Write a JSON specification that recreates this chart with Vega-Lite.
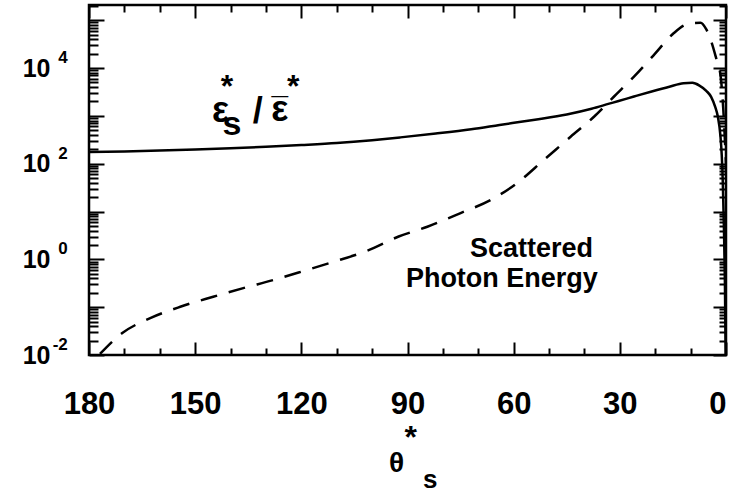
{
  "$schema": "https://vega.github.io/schema/vega-lite/v6.json",
  "width": 637,
  "height": 350,
  "autosize": {"type": "none"},
  "padding": {"left": 89, "top": 5, "right": 3, "bottom": 139},
  "background": "white",
  "config": {
    "view": {"stroke": "black", "strokeWidth": 2.5},
    "font": "Liberation Sans",
    "axis": {"grid": false, "domain": false, "tickColor": "black", "tickWidth": 2, "labelColor": "black", "labelFont": "Liberation Sans", "labelFontWeight": "bold", "labelOverlap": false, "labelFlush": false}
  },
  "datasets": {
    "solid": [
      {"theta": 180, "value": 175}, {"theta": 170, "value": 180}, {"theta": 160, "value": 188},
      {"theta": 150, "value": 198}, {"theta": 140, "value": 210}, {"theta": 130, "value": 225},
      {"theta": 120, "value": 245}, {"theta": 110, "value": 270}, {"theta": 100, "value": 310},
      {"theta": 92, "value": 355}, {"theta": 82, "value": 427}, {"theta": 72, "value": 525},
      {"theta": 64, "value": 645}, {"theta": 54, "value": 832}, {"theta": 45, "value": 1070},
      {"theta": 38, "value": 1410}, {"theta": 33, "value": 1800}, {"theta": 30.6, "value": 2020},
      {"theta": 26, "value": 2540}, {"theta": 21, "value": 3240}, {"theta": 16, "value": 4070},
      {"theta": 12, "value": 4790}, {"theta": 9.5, "value": 4900}, {"theta": 7.5, "value": 4300},
      {"theta": 5.5, "value": 3300}, {"theta": 4.2, "value": 2500}, {"theta": 3, "value": 1500},
      {"theta": 2.3, "value": 960}, {"theta": 1.6, "value": 400}, {"theta": 1.2, "value": 150},
      {"theta": 0.9, "value": 40}, {"theta": 0.6, "value": 5}, {"theta": 0.3, "value": 0.3},
      {"theta": 0.1, "value": 0.01}
    ],
    "dashed": [
      {"theta": 176.9, "value": 0.0105}, {"theta": 170.7, "value": 0.0284}, {"theta": 162.7, "value": 0.059},
      {"theta": 154.2, "value": 0.102}, {"theta": 144.9, "value": 0.165}, {"theta": 136.4, "value": 0.25},
      {"theta": 127.9, "value": 0.37}, {"theta": 119.4, "value": 0.57}, {"theta": 110.9, "value": 0.89},
      {"theta": 101.4, "value": 1.51}, {"theta": 92.5, "value": 3.0}, {"theta": 84.4, "value": 4.8},
      {"theta": 75, "value": 9.3}, {"theta": 66.5, "value": 17.4}, {"theta": 59, "value": 39.5},
      {"theta": 51.5, "value": 119}, {"theta": 43.9, "value": 366}, {"theta": 37.3, "value": 960},
      {"theta": 31.7, "value": 2510}, {"theta": 26, "value": 6600}, {"theta": 20.4, "value": 18700},
      {"theta": 14.8, "value": 53200}, {"theta": 11.5, "value": 80000}, {"theta": 9.96, "value": 86100},
      {"theta": 7.2, "value": 88700}, {"theta": 5.6, "value": 65000}, {"theta": 4.3, "value": 38500},
      {"theta": 2.9, "value": 17300}, {"theta": 1.5, "value": 6600}, {"theta": 0.8, "value": 1500},
      {"theta": 0.3, "value": 300}, {"theta": 0, "value": 100}
    ],
    "glyphs": [
      {"t": "ε", "role": "big", "theta": 142.8, "value": 743},
      {"t": "s", "role": "sub", "theta": 139.6, "value": 398},
      {"t": "*", "role": "star", "theta": 141.0, "value": 2523},
      {"t": "/", "role": "big", "theta": 132.3, "value": 710},
      {"t": "ε", "role": "big", "theta": 126.1, "value": 780},
      {"t": "¯", "role": "bar", "theta": 126.1, "value": 885},
      {"t": "*", "role": "star", "theta": 122.3, "value": 2523},
      {"t": "θ", "role": "theta", "theta": 93.1, "value": 0.0000363},
      {"t": "*", "role": "star", "theta": 89.1, "value": 0.000111},
      {"t": "s", "role": "tsub", "theta": 83.6, "value": 0.0000166}
    ],
    "words": [
      {"t": "Scattered", "theta": 37.6, "value": 1.135},
      {"t": "Photon Energy", "theta": 36.2, "value": 0.264}
    ],
    "exponents": [
      {"e": "-2", "theta": 186, "value": 0.01},
      {"e": "0", "theta": 186, "value": 1},
      {"e": "2", "theta": 186, "value": 100},
      {"e": "4", "theta": 186, "value": 10000}
    ]
  },
  "resolve": {"axis": {"x": "independent", "y": "independent"}},
  "layer": [
    {
      "data": {"name": "solid"},
      "mark": {"type": "line", "color": "black", "strokeWidth": 2.5, "clip": true, "interpolate": "monotone"},
      "encoding": {
        "x": {"field": "theta", "type": "quantitative", "title": null,
          "scale": {"type": "linear", "domain": [0, 180], "reverse": true, "nice": false, "zero": false},
          "axis": {"orient": "bottom", "values": [0, 30, 60, 90, 120, 150, 180], "tickSize": 13, "offset": -13, "labelPadding": 34, "labelFontSize": 31,
            "labelAlign": {"condition": {"test": "datum.value == 0", "value": "right"}, "value": "center"}}},
        "y": {"field": "value", "type": "quantitative", "title": null,
          "scale": {"type": "log", "domain": [0.01, 208000], "nice": false},
          "axis": {"orient": "left", "values": [0.01, 0.1, 1, 10, 100, 1000, 10000, 100000], "tickSize": 15, "offset": -15, "labelPadding": 39, "labelFontSize": 25, "labelBaseline": "middle",
            "labelExpr": "datum.value == 0.01 || datum.value == 1 || datum.value == 100 || datum.value == 10000 ? '10' : ''"}}
      }
    },
    {
      "data": {"name": "dashed"},
      "mark": {"type": "line", "color": "black", "strokeWidth": 2.5, "strokeDash": [17, 12], "clip": true, "interpolate": "monotone"},
      "encoding": {
        "x": {"field": "theta", "type": "quantitative", "title": null,
          "scale": {"type": "linear", "domain": [0, 180], "reverse": true, "nice": false, "zero": false},
          "axis": {"orient": "bottom", "values": [10, 20, 40, 50, 70, 80, 100, 110, 130, 140, 160, 170], "tickSize": 7, "offset": -7, "labels": false}},
        "y": {"field": "value", "type": "quantitative", "title": null,
          "scale": {"type": "log", "domain": [0.01, 208000], "nice": false},
          "axis": {"orient": "left", "tickSize": 9, "offset": -9, "labels": false,
            "values": [0.02,0.03,0.04,0.05,0.06,0.07,0.08,0.09,0.2,0.3,0.4,0.5,0.6,0.7,0.8,0.9,2,3,4,5,6,7,8,9,20,30,40,50,60,70,80,90,200,300,400,500,600,700,800,900,2000,3000,4000,5000,6000,7000,8000,9000,20000,30000,40000,50000,60000,70000,80000,90000,200000]}}
      }
    },
    {
      "data": {"name": "glyphs"},
      "mark": {"type": "text", "color": "black", "fontWeight": "bold", "align": "center", "baseline": "alphabetic", "clip": false},
      "encoding": {
        "text": {"field": "t"},
        "size": {"field": "role", "type": "ordinal", "legend": null,
          "scale": {"domain": ["big", "sub", "star", "bar", "theta", "tsub"], "range": [36, 26, 16, 28, 33, 25]}},
        "x": {"field": "theta", "type": "quantitative", "title": null,
          "scale": {"type": "linear", "domain": [0, 180], "reverse": true, "nice": false, "zero": false},
          "axis": {"orient": "top", "values": [0, 30, 60, 90, 120, 150, 180], "tickSize": 13, "offset": -13, "labels": false}},
        "y": {"field": "value", "type": "quantitative", "title": null,
          "scale": {"type": "log", "domain": [0.01, 208000], "nice": false},
          "axis": {"orient": "right", "values": [0.01, 0.1, 1, 10, 100, 1000, 10000, 100000], "tickSize": 13, "offset": -13, "labels": false}}
      }
    },
    {
      "data": {"name": "words"},
      "mark": {"type": "text", "color": "black", "fontWeight": "bold", "fontSize": 27, "align": "right", "baseline": "alphabetic", "clip": false},
      "encoding": {
        "text": {"field": "t"},
        "x": {"field": "theta", "type": "quantitative", "title": null,
          "scale": {"type": "linear", "domain": [0, 180], "reverse": true, "nice": false, "zero": false},
          "axis": {"orient": "top", "values": [10, 20, 40, 50, 70, 80, 100, 110, 130, 140, 160, 170], "tickSize": 7, "offset": -7, "labels": false}},
        "y": {"field": "value", "type": "quantitative", "title": null,
          "scale": {"type": "log", "domain": [0.01, 208000], "nice": false},
          "axis": {"orient": "right", "tickSize": 7, "offset": -7, "labels": false,
            "values": [0.02,0.03,0.04,0.05,0.06,0.07,0.08,0.09,0.2,0.3,0.4,0.5,0.6,0.7,0.8,0.9,2,3,4,5,6,7,8,9,20,30,40,50,60,70,80,90,200,300,400,500,600,700,800,900,2000,3000,4000,5000,6000,7000,8000,9000,20000,30000,40000,50000,60000,70000,80000,90000,200000]}}
      }
    },
    {
      "data": {"name": "exponents"},
      "mark": {"type": "text", "color": "black", "fontWeight": "bold", "fontSize": 17, "align": "right", "baseline": "middle", "dy": -10, "clip": false},
      "encoding": {
        "text": {"field": "e"},
        "x": {"field": "theta", "type": "quantitative", "axis": null,
          "scale": {"type": "linear", "domain": [0, 180], "reverse": true, "nice": false, "zero": false}},
        "y": {"field": "value", "type": "quantitative", "axis": null,
          "scale": {"type": "log", "domain": [0.01, 208000], "nice": false}}
      }
    }
  ]
}
